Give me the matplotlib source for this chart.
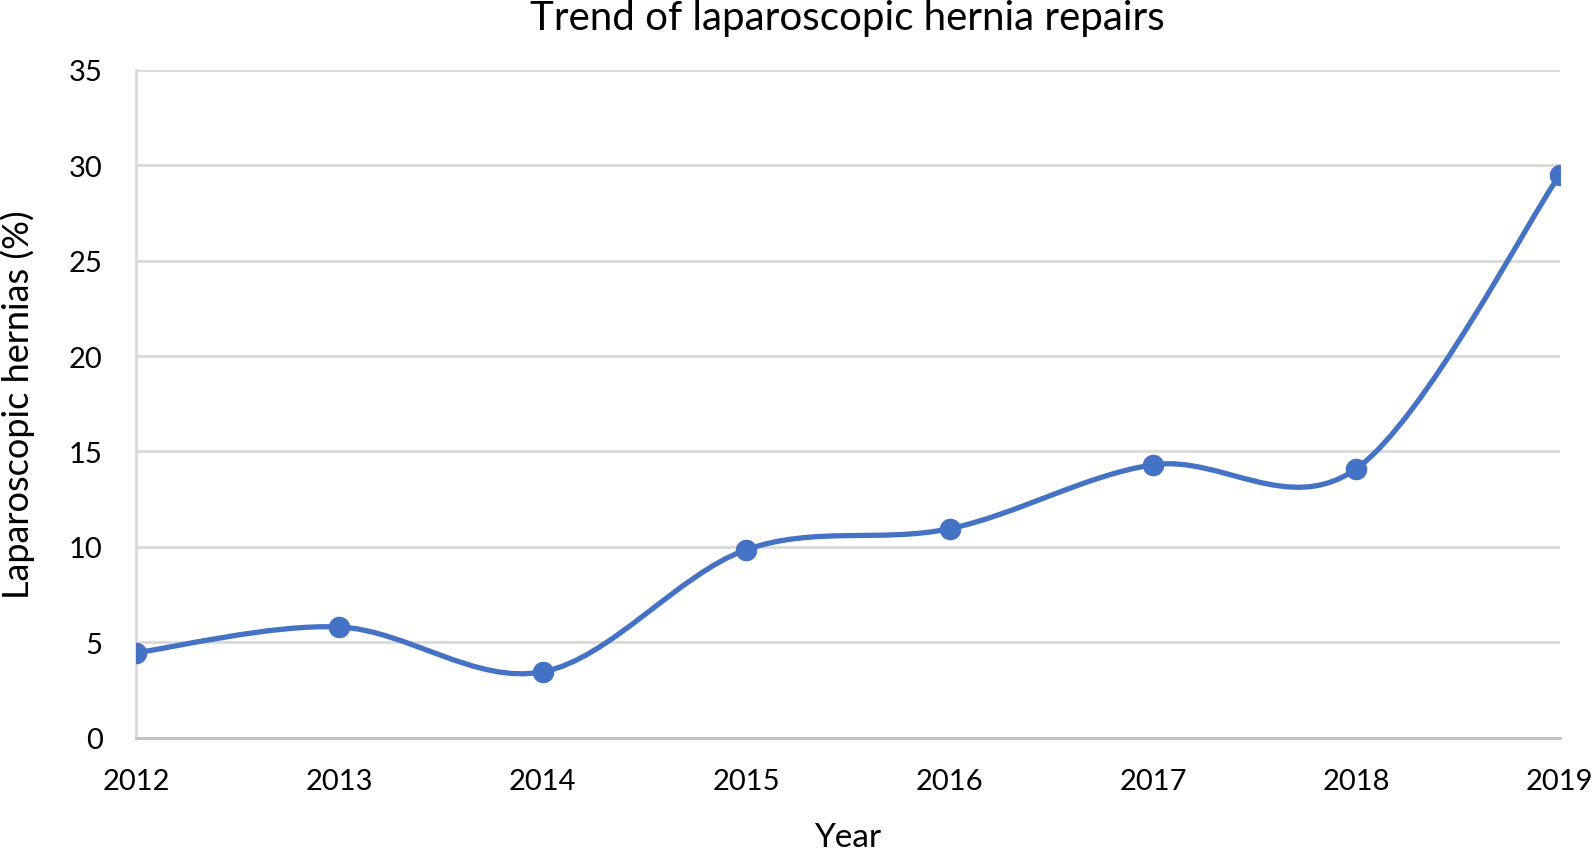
import matplotlib.pyplot as plt
import numpy as np
from matplotlib.path import Path
from matplotlib.patches import PathPatch

plt.rcParams['font.family'] = ['Lato', 'DejaVu Sans']

years = [2012, 2013, 2014, 2015, 2016, 2017, 2018, 2019]
pct = [4.45, 5.8, 3.45, 9.85, 10.95, 14.3, 14.1, 29.5]
yticks = [0, 5, 10, 15, 20, 25, 30, 35]

BLUE = '#4472C4'
GRID = '#d9d9d9'


def smooth_path(x, y):
    # Excel-style smoothed line: cubic Bezier segments with Catmull-Rom tangents
    pts = np.column_stack([x, y]).astype(float)
    n = len(pts)
    verts = [pts[0]]
    codes = [Path.MOVETO]
    for i in range(n - 1):
        p0 = pts[max(i - 1, 0)]
        p1 = pts[i]
        p2 = pts[i + 1]
        p3 = pts[min(i + 2, n - 1)]
        c1 = p1 + (p2 - p0) / 6.0
        c2 = p2 - (p3 - p1) / 6.0
        verts += [c1, c2, p2]
        codes += [Path.CURVE4] * 3
    return Path(verts, codes)


fig = plt.figure(figsize=(15.93, 8.54), dpi=100)
ax = fig.add_axes([0.0854, 0.1351, 0.8937, 0.7818])

ax.add_patch(PathPatch(smooth_path(years, pct), facecolor='none',
                       edgecolor=BLUE, lw=3.8, capstyle='round', zorder=3))
ax.plot(years, pct, ls='none', marker='o', ms=14.5, color=BLUE, zorder=4)

ax.set_xlim(2012, 2019)
ax.set_ylim(0, 35)
ax.set_xticks(years)
ax.set_yticks(yticks)
ax.grid(axis='y', color=GRID, lw=2)
ax.set_axisbelow(True)

for side in ['top', 'right']:
    ax.spines[side].set_visible(False)
ax.spines['left'].set_color(GRID)
ax.spines['left'].set_linewidth(2)
ax.spines['bottom'].set_color('#bfbfbf')
ax.spines['bottom'].set_linewidth(2)

ax.tick_params(axis='both', length=0, labelsize=21, colors='black')
ax.tick_params(axis='x', pad=22)
ax.tick_params(axis='y', pad=24)

fig.text(0.0854 + 0.8937 / 2, 0.978, 'Trend of laparoscopic hernia repairs',
         fontsize=29, ha='center', va='center')
ax.set_xlabel('Year', fontsize=24)
ax.set_ylabel('Laparoscopic hernias (%)', fontsize=26)
ax.xaxis.set_label_coords(0.5, -0.1624)
ax.yaxis.set_label_coords(-0.083, 0.5)
ax.xaxis.label.set_va('baseline')
ax.yaxis.label.set_va('center')

fig.savefig('out.png', dpi=100)
